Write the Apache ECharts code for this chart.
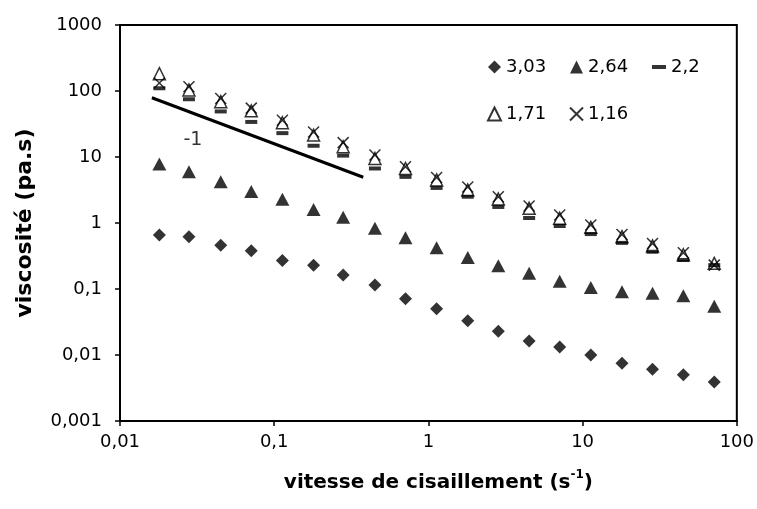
<!DOCTYPE html>
<html>
<head>
<meta charset="utf-8">
<script src="https://cdn.jsdelivr.net/npm/echarts@6/dist/echarts.min.js"></script>
<style>html,body{margin:0;padding:0;background:#fff}#c{width:757px;height:509px}</style>
</head>
<body>
<div id="c"></div>
<script>
// shear rate (s-1)
const shearRate = [0.018, 0.028, 0.045, 0.071, 0.113, 0.18, 0.28, 0.45, 0.71, 1.13, 1.8, 2.84, 4.5, 7.1, 11.3, 18, 28.4, 45, 71.4];
// viscosity series (pa.s)
const s303 = [0.66, 0.62, 0.46, 0.38, 0.27, 0.23, 0.163, 0.115, 0.071, 0.05, 0.033, 0.023, 0.0163, 0.0132, 0.01, 0.0075, 0.0061, 0.005, 0.0039];
const s264 = [7.8, 6.0, 4.2, 3.0, 2.3, 1.6, 1.22, 0.83, 0.6, 0.42, 0.3, 0.225, 0.173, 0.131, 0.105, 0.091, 0.086, 0.079, 0.055];
const s22  = [110, 75, 49, 34, 23, 14.8, 10.5, 6.7, 5.0, 3.4, 2.5, 1.75, 1.19, 0.9, 0.68, 0.5, 0.367, 0.275, 0.23];
const s171 = [183, 104, 69, 50, 33, 21.5, 14.3, 9.5, 6.7, 4.5, 3.16, 2.31, 1.67, 1.18, 0.86, 0.62, 0.45, 0.33, 0.245];
const s116 = [132, 116, 77, 55, 36, 24, 16.5, 10.7, 7.1, 4.9, 3.5, 2.5, 1.81, 1.32, 0.93, 0.67, 0.49, 0.355, 0.23];
const seriesNames = ['3,03', '2,64', '2,2', '1,71', '1,16'];
// slope guide line and its label
const slopeLine = [[0.0161, 79], [0.378, 4.93]];
const slopeLabelPos = [0.0297, 18.1];
const slopeLabel = '-1';
const xTitle = 'vitesse de cisaillement (s';
const xTitleSup = '-1';
const yTitle = 'viscosité (pa.s)';

const pair = arr => shearRate.map((x, i) => [x, arr[i]]);
const FONT = '"DejaVu Sans", sans-serif';
const fmt = v => String(Number(v.toPrecision(6))).replace('.', ',');
const crossPath = 'path://M0,0L10,10M10,0L0,10';
const dashPath = 'path://M0,0H14V4H0Z';
const legendText = {fontFamily: FONT, fontSize: 18, color: '#000'};
const legendCommon = {orient: 'vertical', top: 53, itemWidth: 13, itemHeight: 13, itemGap: 29, selectedMode: false, textStyle: legendText};

const chart = echarts.init(document.getElementById('c'), null, {renderer: 'canvas'});
chart.setOption({
  animation: false,
  backgroundColor: '#fff',
  textStyle: {fontFamily: FONT, color: '#000'},
  grid: {left: 120, right: 20, top: 25, bottom: 88, show: true, borderColor: '#000', borderWidth: 2, containLabel: false},
  legend: [
    Object.assign({left: 482, data: [{name: seriesNames[0], icon: 'diamond'}, {name: seriesNames[3], icon: 'triangle'}]}, legendCommon),
    Object.assign({left: 564, data: [{name: seriesNames[1], icon: 'triangle'}, {name: seriesNames[4], icon: crossPath}]}, legendCommon),
    Object.assign({left: 647, data: [{name: seriesNames[2], icon: dashPath}]}, legendCommon, {itemWidth: 14})
  ],
  xAxis: {
    type: 'log', logBase: 10, min: 0.01, max: 100,
    name: '{m|' + xTitle + '}{s|' + xTitleSup + '}{m|)}',
    nameLocation: 'middle', nameGap: 48,
    nameTextStyle: {padding: [0, 0, 0, 20], rich: {
      m: {fontFamily: FONT, fontSize: 20, fontWeight: 'bold', color: '#000', lineHeight: 24, verticalAlign: 'bottom'},
      s: {fontFamily: FONT, fontSize: 12, fontWeight: 'bold', color: '#000', lineHeight: 24, verticalAlign: 'top', padding: [0, 0, 10, 0]}
    }},
    axisLine: {lineStyle: {color: '#000', width: 2}},
    axisTick: {show: true, length: 5, lineStyle: {color: '#000', width: 1.5}},
    axisLabel: {fontFamily: FONT, fontSize: 18, color: '#000', margin: 12, formatter: fmt},
    splitLine: {show: false}, minorTick: {show: false}
  },
  yAxis: {
    type: 'log', logBase: 10, min: 0.001, max: 1000,
    name: yTitle, nameLocation: 'middle', nameGap: 84, nameRotate: 90,
    nameTextStyle: {fontFamily: FONT, fontSize: 22, fontWeight: 'bold', color: '#000'},
    axisLine: {lineStyle: {color: '#000', width: 2}},
    axisTick: {show: true, length: 5, lineStyle: {color: '#000', width: 1.5}},
    axisLabel: {fontFamily: FONT, fontSize: 18, color: '#000', margin: 18, formatter: fmt},
    splitLine: {show: false}
  },
  series: [
    {name: seriesNames[0], type: 'scatter', data: pair(s303), symbol: 'diamond', symbolSize: 13,
     itemStyle: {color: '#000'}},
    {name: seriesNames[1], type: 'scatter', data: pair(s264), symbol: 'triangle', symbolSize: [14, 13],
     itemStyle: {color: '#000'}},
    {name: seriesNames[2], type: 'scatter', data: pair(s22), symbol: 'rect', symbolSize: [12, 4],
     itemStyle: {color: '#000'}},
    {name: seriesNames[3], type: 'scatter', data: pair(s171), symbol: 'triangle', symbolSize: [12, 12],
     itemStyle: {color: 'rgba(255,255,255,0)', borderColor: '#000', borderWidth: 1.5}},
    {name: seriesNames[4], type: 'scatter', data: pair(s116), symbol: crossPath, symbolSize: 11,
     itemStyle: {color: 'rgba(255,255,255,0)', borderColor: '#000', borderWidth: 1.5}},
    {name: 'pente', type: 'line', data: slopeLine, symbol: 'none', lineStyle: {color: '#000', width: 3}, silent: true},
    {name: 'pente-label', type: 'scatter', data: [slopeLabelPos], symbolSize: 0, silent: true,
     label: {show: true, position: 'inside', formatter: slopeLabel, fontFamily: FONT, fontSize: 19, color: '#000'}}
  ]
});
</script>
</body>
</html>
